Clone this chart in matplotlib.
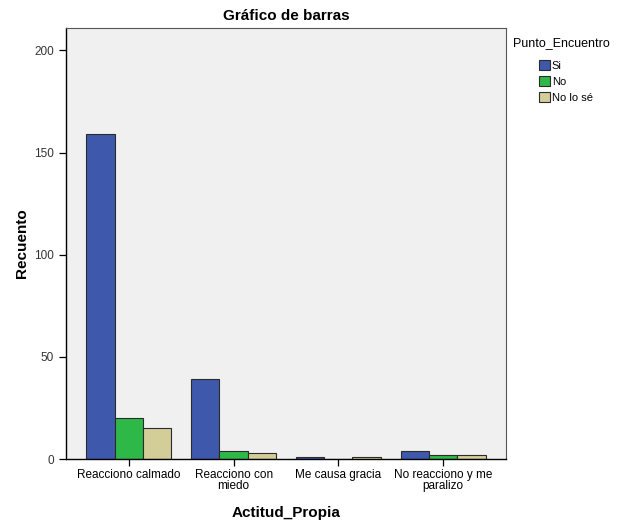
import matplotlib

matplotlib.use("Agg")
import matplotlib.pyplot as plt
from matplotlib.patches import Patch
import numpy as np

categories = ["Reacciono calmado", "Reacciono con\nmiedo", "Me causa gracia", "No reacciono y me\nparalizo"]
series_names = ["Si", "No", "No lo sé"]
si_counts = [159, 39, 1, 4]
no_counts = [20, 4, 0, 2]
nolose_counts = [15, 3, 1, 2]
y_ticks = [0, 50, 100, 150, 200]

COLORS = ["#3e58ac", "#2eb848", "#d3ce98"]
EDGE = "#2b2b2b"
BG = "#f0f0f0"

plt.rcParams.update({"font.family": ["Liberation Sans", "DejaVu Sans"]})

fig = plt.figure(figsize=(6.24, 5.24), dpi=100)
ax = fig.add_axes([0.1058, 0.124, 0.705, 0.8226])
ax.set_facecolor(BG)

x = np.arange(len(categories))
width = 0.27
for i, (vals, color) in enumerate(zip([si_counts, no_counts, nolose_counts], COLORS)):
    ax.bar(x + (i - 1) * width, vals, width, color=color, edgecolor=EDGE, linewidth=0.8)

ax.set_xlim(-0.6, len(categories) - 0.4)
ax.set_ylim(0, 211)
ax.set_yticks(y_ticks)
ax.set_xticks(x)
ax.set_xticklabels(categories, fontsize=8.5, linespacing=0.9)
ax.tick_params(axis="y", labelsize=8.5, labelcolor="#333333", direction="out", length=5, width=0.9)
ax.tick_params(axis="x", direction="out", length=5, width=0.9, pad=2)

for spine in ax.spines.values():
    spine.set_color("#555555")
    spine.set_linewidth(0.8)
ax.spines["left"].set_color("black")
ax.spines["bottom"].set_color("black")
ax.spines["left"].set_linewidth(1.0)
ax.spines["bottom"].set_linewidth(1.0)

ax.set_xlabel("Actitud_Propia", fontsize=11, fontweight="bold", labelpad=10)
ax.set_ylabel("Recuento", fontsize=11, fontweight="bold", labelpad=4)
ax.set_title("Gráfico de barras", fontsize=11, fontweight="bold", pad=6)

fig.text(0.822, 0.917, "Punto_Encuentro", fontsize=9, va="center", ha="left")
handles = [Patch(facecolor=c, edgecolor=EDGE, linewidth=0.8) for c in COLORS]
fig.legend(handles, series_names, loc="upper left", bbox_to_anchor=(0.864, 0.885), frameon=False,
           fontsize=8, handlelength=1.0, handleheight=1.0, handletextpad=0.15, labelspacing=0.45,
           borderpad=0, borderaxespad=0)

fig.savefig("out.png", dpi=100, facecolor="white")
